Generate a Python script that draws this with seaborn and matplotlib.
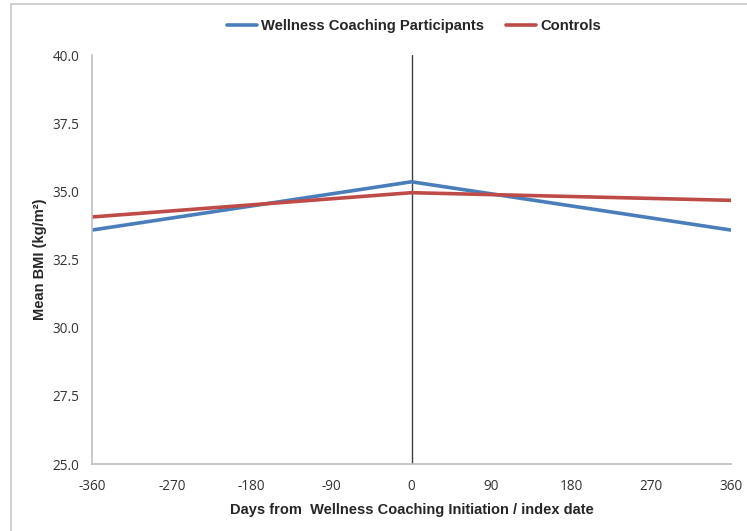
import matplotlib
matplotlib.use("Agg")
import matplotlib.pyplot as plt
import seaborn as sns
import pandas as pd
from matplotlib.patches import Rectangle
from matplotlib.lines import Line2D

days = [-360, 0, 360]
participants = [33.58, 35.35, 33.58]
controls = [34.06, 34.95, 34.67]
series_names = ["Wellness Coaching Participants", "Controls"]
x_ticks = [-360, -270, -180, -90, 0, 90, 180, 270, 360]
y_ticks = [25.0, 27.5, 30.0, 32.5, 35.0, 37.5, 40.0]

df = pd.DataFrame({
    "Days": days * 2,
    "BMI": participants + controls,
    "Group": [series_names[0]] * len(days) + [series_names[1]] * len(days),
})

sns.set_theme(style="white")
plt.rcParams["font.family"] = ["Liberation Sans", "DejaVu Sans"]

fig = plt.figure(figsize=(7.47, 5.31), dpi=100)
ax = fig.add_axes([92/747, 1-464/531, (731-92)/747, (464-55)/531])

palette = {series_names[0]: "#4A7EBB", series_names[1]: "#BE4B48"}
sns.lineplot(data=df, x="Days", y="BMI", hue="Group", palette=palette,
             linewidth=2.6, ax=ax, legend=False)

ax.axvline(0, color="#404040", linewidth=1.0, zorder=1)

ax.set_xlim(-360, 360)
ax.set_ylim(25, 40)
ax.set_xticks(x_ticks)
ax.set_xticklabels([str(v) for v in x_ticks])
ax.set_yticks(y_ticks)
ax.set_yticklabels([f"{v:.1f}" for v in y_ticks])

for s in ["top", "right"]:
    ax.spines[s].set_visible(False)
for s in ["left", "bottom"]:
    ax.spines[s].set_color("#BFBFBF")
    ax.spines[s].set_linewidth(1.2)

ax.tick_params(axis="x", direction="inout", length=9, width=1,
               color="#BFBFBF", labelcolor="#333333", pad=6)
ax.tick_params(axis="y", direction="out", length=5, width=1,
               color="#BFBFBF", labelcolor="#333333", pad=4)
for lbl in ax.get_xticklabels() + ax.get_yticklabels():
    lbl.set_family(["Open Sans", "DejaVu Sans"])
    lbl.set_fontsize(9.8)

ax.set_xlabel("Days from  Wellness Coaching Initiation / index date",
              fontsize=10.5, fontweight="bold", labelpad=7)
ax.set_ylabel("Mean BMI (kg/m\u00b2)", fontsize=10.5, fontweight="bold")
ax.yaxis.set_label_coords((47 - 92) / 639, 0.5)

handles = [Line2D([0], [0], color=palette[n], linewidth=2.6) for n in series_names]
fig.legend(handles, series_names, loc="center", bbox_to_anchor=(414/747, 1-26/531),
           ncol=2, frameon=False, prop={"weight": "bold", "size": 10.6},
           handlelength=2.0, handletextpad=0.3, columnspacing=1.5)

fig.patches.append(Rectangle((11/747, -0.1), 1.2, 1 - 4/531 + 0.1,
                             transform=fig.transFigure, fill=False,
                             edgecolor="#C8C8C8", linewidth=1.2))

fig.savefig("out.png", dpi=100)
